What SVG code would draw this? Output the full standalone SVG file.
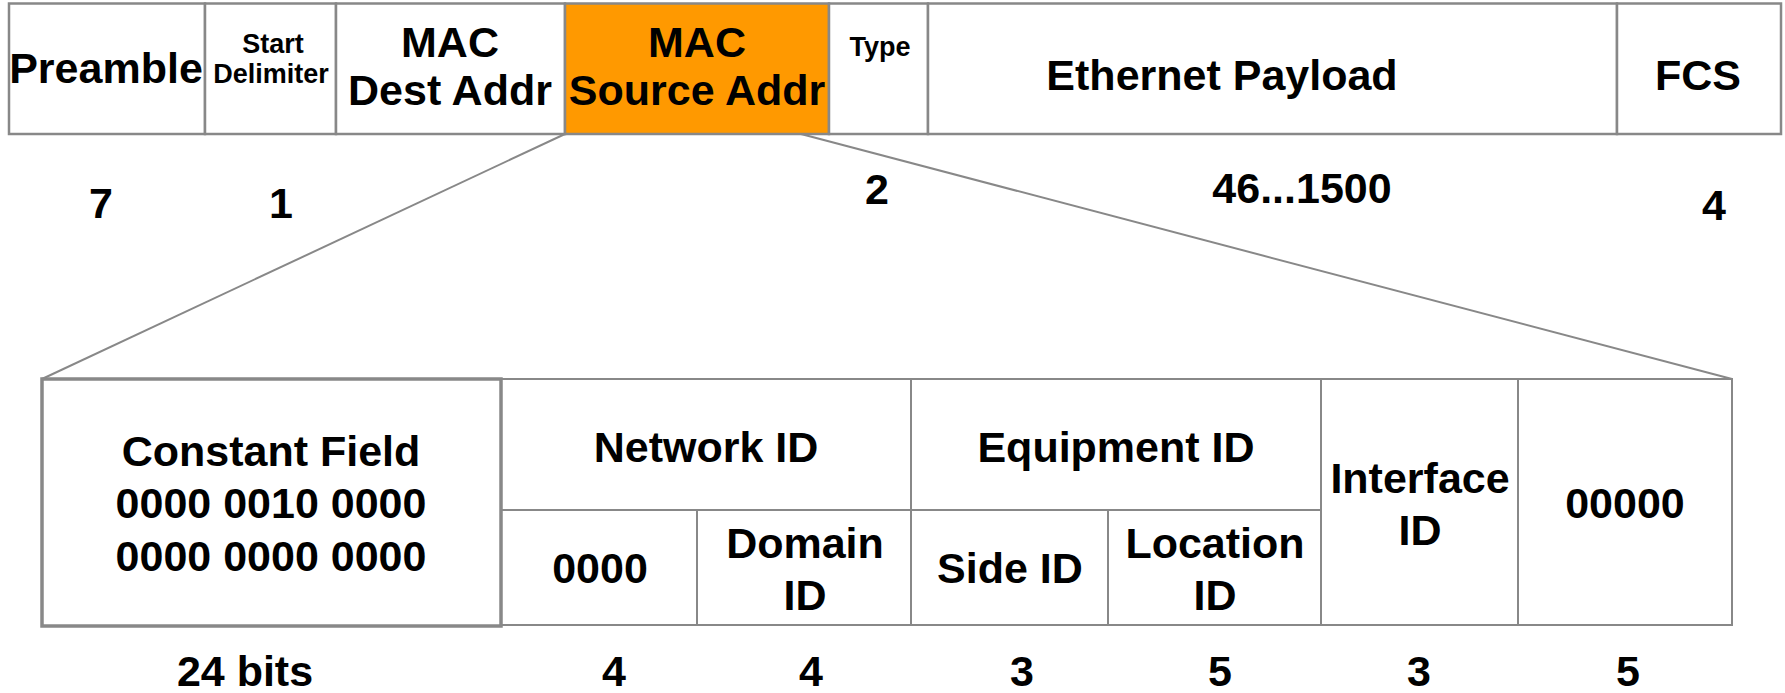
<svg xmlns="http://www.w3.org/2000/svg" width="1785" height="693" viewBox="0 0 1785 693">
<style>
text{font-family:"Liberation Sans",Arial,Helvetica,sans-serif;font-weight:bold;fill:#000;text-anchor:middle}
.big{font-size:43px}
.sm{font-size:27px}
.cell{fill:#fff;stroke:#888;stroke-width:2.5}
.thin{fill:none;stroke:#888;stroke-width:2}
.thick{fill:none;stroke:#888;stroke-width:3.5}
.conn{fill:none;stroke:#888;stroke-width:2}
</style>
<rect width="1785" height="693" fill="#fff"/>
<g id="frame">
  <g id="preamble"><rect class="cell" x="9" y="3.5" width="196" height="130.5"/><text class="big" x="106" y="83">Preamble</text></g>
  <g id="start-delimiter"><rect class="cell" x="205" y="3.5" width="131" height="130.5"/><text class="sm" x="273" y="53" font-size="26">Start</text><text class="sm" x="271" y="83">Delimiter</text></g>
  <g id="mac-dest"><rect class="cell" x="336" y="3.5" width="229" height="130.5"/><text class="big" x="450" y="57">MAC</text><text class="big" x="450" y="105">Dest Addr</text></g>
  <g id="mac-source"><rect class="cell" x="565" y="3.5" width="264" height="130.5" style="fill:#ff9900"/><text class="big" x="697" y="57">MAC</text><text class="big" x="697" y="105">Source Addr</text></g>
  <g id="type"><rect class="cell" x="829" y="3.5" width="99" height="130.5"/><text class="sm" x="880" y="56">Type</text></g>
  <g id="payload"><rect class="cell" x="928" y="3.5" width="689" height="130.5"/><text class="big" x="1222" y="90">Ethernet Payload</text></g>
  <g id="fcs"><rect class="cell" x="1617" y="3.5" width="164" height="130.5"/><text class="big" x="1698" y="90">FCS</text></g>
</g>
<g id="frame-sizes">
  <text class="big" x="101" y="218" font-size="45">7</text>
  <text class="big" x="281" y="218" font-size="45">1</text>
  <text class="big" x="877" y="204" font-size="45">2</text>
  <text class="big" x="1302" y="203" font-size="44">46...1500</text>
  <text class="big" x="1714" y="220" font-size="45">4</text>
</g>
<g id="connectors">
  <line class="conn" x1="565" y1="134" x2="42" y2="379"/>
  <line class="conn" x1="801" y1="134" x2="1732" y2="379"/>
</g>
<g id="address">
  <g id="network-id"><rect class="thin" x="501" y="379" width="410" height="246"/><line class="thin" x1="501" y1="510" x2="911" y2="510"/><text class="big" x="706" y="462">Network ID</text></g>
  <g id="zero4"><line class="thin" x1="697" y1="510" x2="697" y2="625"/><text class="big" x="600" y="583">0000</text></g>
  <g id="domain-id"><text class="big" x="805" y="558">Domain</text><text class="big" x="805" y="610">ID</text></g>
  <g id="equipment-id"><rect class="thin" x="911" y="379" width="410" height="246"/><line class="thin" x1="911" y1="510" x2="1321" y2="510"/><text class="big" x="1116" y="462">Equipment ID</text></g>
  <g id="side-id"><line class="thin" x1="1108" y1="510" x2="1108" y2="625"/><text class="big" x="1010" y="583">Side ID</text></g>
  <g id="location-id"><text class="big" x="1215" y="558">Location</text><text class="big" x="1215" y="610">ID</text></g>
  <g id="interface-id"><rect class="thin" x="1321" y="379" width="197" height="246"/><text class="big" x="1420" y="493">Interface</text><text class="big" x="1420" y="545">ID</text></g>
  <g id="zero5"><rect class="thin" x="1518" y="379" width="214" height="246"/><text class="big" x="1625" y="518">00000</text></g>
  <g id="constant-field"><rect class="thick" x="42" y="379" width="459" height="247"/><text class="big" x="271" y="466">Constant Field</text><text class="big" x="271" y="518">0000 0010 0000</text><text class="big" x="271" y="571">0000 0000 0000</text></g>
</g>
<g id="address-sizes">
  <text class="big" x="245" y="686">24 bits</text>
  <text class="big" x="614" y="686">4</text>
  <text class="big" x="811" y="686">4</text>
  <text class="big" x="1022" y="686">3</text>
  <text class="big" x="1220" y="686">5</text>
  <text class="big" x="1419" y="686">3</text>
  <text class="big" x="1628" y="686">5</text>
</g>
</svg>
